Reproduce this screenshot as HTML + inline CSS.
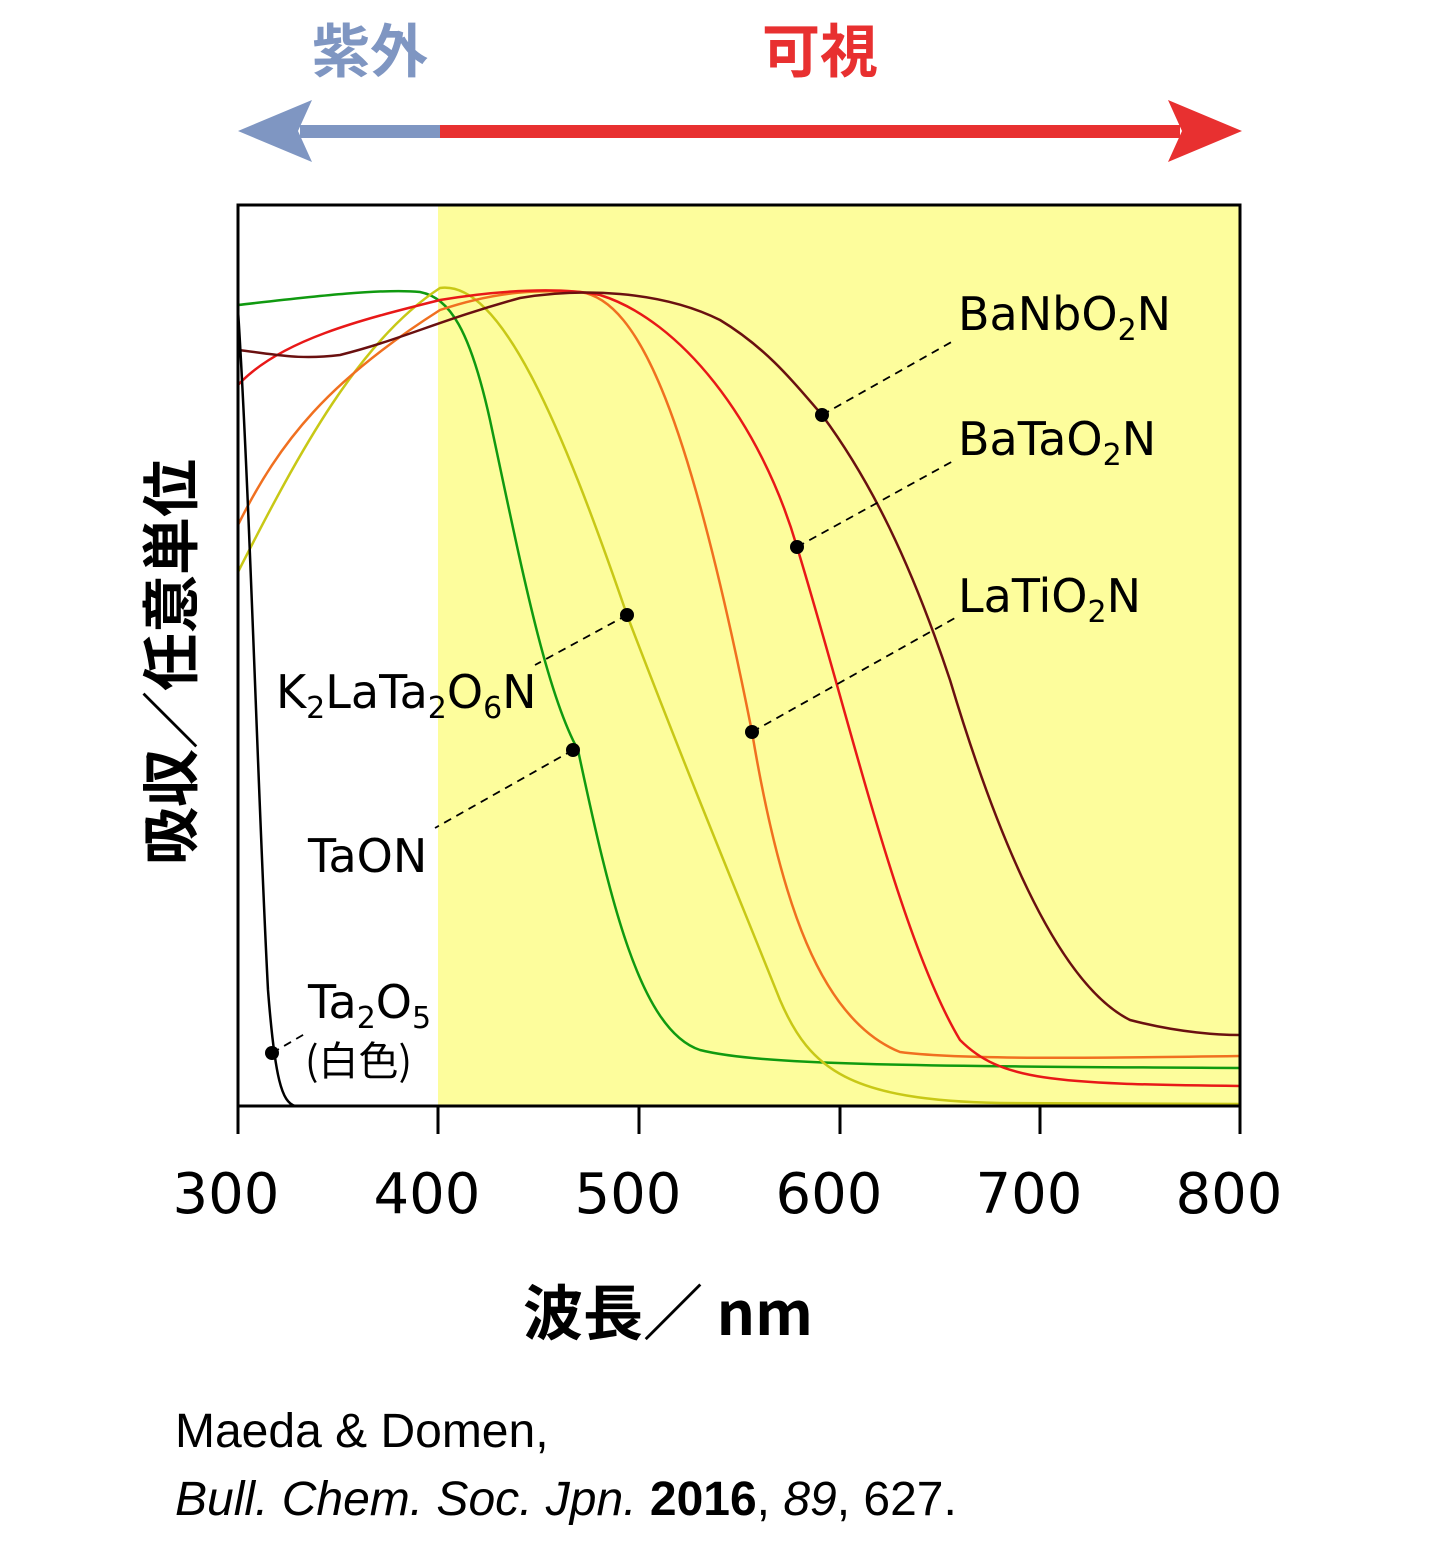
<!DOCTYPE html>
<html><head><meta charset="utf-8"><style>
body{margin:0;background:#fff;}
svg{display:block}
</style></head><body>
<svg width="1440" height="1552" viewBox="0 0 1440 1552" xmlns="http://www.w3.org/2000/svg">
<g font-family="Liberation Sans, Noto Sans CJK JP, sans-serif">
<text x="370" y="72" font-size="58" font-weight="bold" fill="#7f96c2" text-anchor="middle" font-family="Noto Sans CJK JP, sans-serif">紫外</text>
<text x="820" y="72" font-size="58" font-weight="bold" fill="#e83030" text-anchor="middle" font-family="Noto Sans CJK JP, sans-serif">可視</text>
<rect x="300" y="125" width="140" height="13" fill="#7f96c2"/>
<polygon points="238,131 312,100 298,131 312,162" fill="#7f96c2"/>
<rect x="440" y="125" width="740" height="13" fill="#e83030"/>
<polygon points="1242,131 1168,100 1182,131 1168,162" fill="#e83030"/>
<rect x="438" y="205" width="802" height="901" fill="#fdfd9c"/>
<g fill="none" stroke-width="2.5">
<path d="M238,305 C300,298 380,288 420,292 C450,298 470,330 490,420 C520,560 545,690 578,750 C610,900 640,1030 700,1050 C760,1065 900,1066 1240,1068" stroke="#109a10"/>
<path d="M238,572 C300,450 360,340 440,288 C500,280 560,420 627,615 C690,780 740,900 780,1000 C810,1070 850,1100 1000,1103 L1240,1104" stroke="#c8c816"/>
<path d="M238,525 C280,440 330,380 440,310 C500,290 540,290 580,292 C640,300 690,420 752,732 C780,900 820,1020 900,1052 C960,1060 1100,1058 1240,1056" stroke="#f07020"/>
<path d="M238,385 C280,340 360,320 440,300 C500,290 560,287 600,295 C680,320 760,420 797,547 C850,720 900,940 960,1040 C1000,1080 1050,1084 1240,1086" stroke="#e81818"/>
<path d="M238,350 C280,355 300,360 340,355 C400,340 440,320 520,298 C580,288 660,290 720,320 C770,350 800,390 822,415 C870,480 910,560 950,680 C1010,880 1070,990 1130,1020 C1180,1033 1220,1035 1240,1035" stroke="#6a1010"/>
<path d="M238,310 C250,500 258,800 268,990 C275,1080 282,1102 295,1106 L400,1106" stroke="#000"/>
</g>
<rect x="238" y="205" width="1002" height="901" fill="none" stroke="#000" stroke-width="3"/>
<g stroke="#000" stroke-width="3">
<line x1="238" y1="1106" x2="238" y2="1134"/><line x1="438" y1="1106" x2="438" y2="1134"/>
<line x1="639" y1="1106" x2="639" y2="1134"/><line x1="840" y1="1106" x2="840" y2="1134"/>
<line x1="1040" y1="1106" x2="1040" y2="1134"/><line x1="1240" y1="1106" x2="1240" y2="1134"/>
</g>
<g stroke="#000" stroke-width="1.8" stroke-dasharray="8,6">
<line x1="822" y1="415" x2="955" y2="340"/>
<line x1="797" y1="547" x2="955" y2="460"/>
<line x1="752" y1="732" x2="955" y2="618"/>
<line x1="627" y1="615" x2="535" y2="665"/>
<line x1="573" y1="750" x2="435" y2="828"/>
<line x1="272" y1="1053" x2="308" y2="1032"/>
</g>
<g fill="#000">
<circle cx="822" cy="415" r="7"/><circle cx="797" cy="547" r="7"/><circle cx="752" cy="732" r="7"/>
<circle cx="627" cy="615" r="7"/><circle cx="573" cy="750" r="7"/><circle cx="272" cy="1053" r="7"/>
</g>
<g font-size="46" fill="#000" font-family="DejaVu Sans, sans-serif">
<text x="958" y="330">BaNbO<tspan font-size="30" dy="10">2</tspan><tspan dy="-10">N</tspan></text>
<text x="958" y="455">BaTaO<tspan font-size="30" dy="10">2</tspan><tspan dy="-10">N</tspan></text>
<text x="958" y="612">LaTiO<tspan font-size="30" dy="10">2</tspan><tspan dy="-10">N</tspan></text>
<text x="276" y="708">K<tspan font-size="30" dy="10">2</tspan><tspan dy="-10">LaTa</tspan><tspan font-size="30" dy="10">2</tspan><tspan dy="-10">O</tspan><tspan font-size="30" dy="10">6</tspan><tspan dy="-10">N</tspan></text>
<text x="308" y="872">TaON</text>
<text x="308" y="1018">Ta<tspan font-size="30" dy="10">2</tspan><tspan dy="-10">O</tspan><tspan font-size="30" dy="10">5</tspan></text>
<text x="305" y="1075" font-size="40" font-family="Noto Sans CJK JP, sans-serif">(白色)</text>
</g>
<g font-size="56" fill="#000" text-anchor="middle" font-family="DejaVu Sans, sans-serif">
<text x="226" y="1213">300</text><text x="427" y="1213">400</text><text x="628" y="1213">500</text>
<text x="829" y="1213">600</text><text x="1029" y="1213">700</text><text x="1229" y="1213">800</text>
</g>
<text x="668" y="1335" font-size="60" font-weight="bold" text-anchor="middle" font-family="Noto Sans CJK JP, sans-serif">波長／ nm</text>
<text transform="translate(192,662) rotate(-90)" font-size="58" font-weight="bold" text-anchor="middle" font-family="Noto Sans CJK JP, sans-serif">吸収／任意単位</text>
<text x="175" y="1447" font-size="48">Maeda &amp; Domen,</text>
<text x="175" y="1515" font-size="48"><tspan font-style="italic">Bull. Chem. Soc. Jpn.</tspan> <tspan font-weight="bold">2016</tspan>, <tspan font-style="italic">89</tspan>, 627.</text>
</g>
</svg>
</body></html>
